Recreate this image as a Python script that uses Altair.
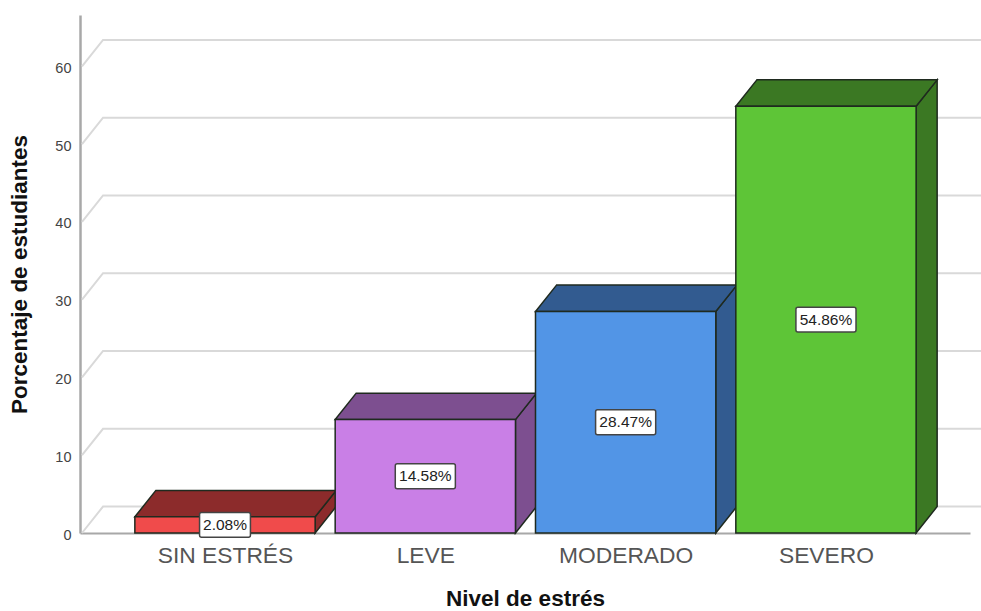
import altair as alt
import pandas as pd

# Survey results: share of students per stress level
categories = ["SIN ESTRÉS", "LEVE", "MODERADO", "SEVERO"]
percentages = [2.08, 14.58, 28.47, 54.86]
front_colors = ["#f04b4b", "#c97fe6", "#5295e6", "#5ec537"]
shade_colors = ["#8c2b2b", "#7d4f90", "#325b90", "#3b7823"]
grid_levels = [0, 10, 20, 30, 40, 50, 60]

# Category slots are one unit wide; the extrusion is expressed in axis units
HALF_BAR = 0.45
DEPTH_X = 0.105
DEPTH_Y = 3.4
X_MIN, X_MAX, X_EDGE = -0.7238, 3.719, 3.774
Y_MAX = 66.6
LABEL_HALF_W = {4: 0.127, 5: 0.15}
LABEL_HALF_H = 1.6
OUTLINE = "#1f2a1f"

x_scale = alt.Scale(domain=[X_MIN, X_MAX], nice=False, zero=False)
y_scale = alt.Scale(domain=[0, Y_MAX], nice=False)

label_expr = "{0: '%s', 1: '%s', 2: '%s', 3: '%s'}[datum.value]" % tuple(categories)

x_axis = alt.Axis(
    values=[0, 1, 2, 3], labelExpr=label_expr, title="Nivel de estrés", grid=False, ticks=False,
    domainColor="#a8a8a8", domainWidth=2, labelFont="Liberation Sans", labelFontSize=22.8,
    labelColor="#555555", labelPadding=11, labelFlush=False, labelOverlap=False,
    titleFont="Liberation Sans", titleFontSize=22.5, titleFontWeight="bold", titleColor="#111111",
    titlePadding=21,
)
y_axis = alt.Axis(
    values=grid_levels, title="Porcentaje de estudiantes", grid=False, ticks=False,
    domainColor="#a8a8a8", domainWidth=2.5, labelFont="Liberation Sans", labelFontSize=14.5,
    labelColor="#444444", labelPadding=9, labelOffset=2, titleFont="Liberation Sans", titleFontSize=22.5,
    titleFontWeight="bold", titleColor="#111111", titlePadding=23,
)

# Back-wall gridlines with their short diagonal run from the axis
wall_rows = []
for level in grid_levels:
    wall_rows += [
        {"level": level, "step": 0, "x": X_MIN + 0.01, "y": level},
        {"level": level, "step": 1, "x": X_MIN + 0.01 + DEPTH_X, "y": level + DEPTH_Y},
        {"level": level, "step": 2, "x": X_EDGE, "y": level + DEPTH_Y},
    ]
walls = alt.Chart(pd.DataFrame(wall_rows)).mark_line(color="#d9d9d9", strokeWidth=2, clip=False).encode(
    x=alt.X("x:Q", scale=x_scale, axis=x_axis),
    y=alt.Y("y:Q", scale=y_scale, axis=y_axis),
    detail="level:N",
    order="step:Q",
)

layers = [walls]
pos_x = alt.X("x:Q", scale=x_scale)
pos_y = alt.Y("y:Q", scale=y_scale)

# Each bar is an extruded box: right side, top, then the front face
for i, value in enumerate(percentages):
    left, right = i - HALF_BAR, i + HALF_BAR
    side = pd.DataFrame({
        "x": [right, right + DEPTH_X],
        "y": [0, DEPTH_Y],
        "y2": [value, value + DEPTH_Y],
    })
    top = pd.DataFrame({
        "y": [value, value + DEPTH_Y],
        "x": [left, left + DEPTH_X],
        "x2": [right, right + DEPTH_X],
    })
    front = pd.DataFrame({"x": [left], "x2": [right], "y": [0], "y2": [value]})

    layers.append(
        alt.Chart(side).mark_area(
            color=shade_colors[i], stroke=OUTLINE, strokeWidth=1.5, orient="vertical"
        ).encode(x=pos_x, y=pos_y, y2="y2:Q")
    )
    layers.append(
        alt.Chart(top).mark_area(
            color=shade_colors[i], stroke=OUTLINE, strokeWidth=1.5, orient="horizontal"
        ).encode(y=pos_y, x=pos_x, x2="x2:Q")
    )
    layers.append(
        alt.Chart(front).mark_rect(
            color=front_colors[i], stroke=OUTLINE, strokeWidth=1.5
        ).encode(x=pos_x, x2="x2:Q", y=pos_y, y2="y2:Q")
    )

# Boxed value labels at mid-height of each bar
label_rows = []
for i, value in enumerate(percentages):
    text = f"{value:.2f}%"
    half_w = LABEL_HALF_W[len(text) - 1]
    label_rows.append({
        "x": i, "x0": i - half_w, "x1": i + half_w,
        "y": value / 2, "y0": value / 2 - LABEL_HALF_H, "y1": value / 2 + LABEL_HALF_H,
        "text": text,
    })
labels = pd.DataFrame(label_rows)

layers.append(
    alt.Chart(labels).mark_rect(
        fill="white", stroke="#444444", strokeWidth=1.5, cornerRadius=2
    ).encode(
        x=alt.X("x0:Q", scale=x_scale), x2="x1:Q",
        y=alt.Y("y0:Q", scale=y_scale), y2="y1:Q",
    )
)
layers.append(
    alt.Chart(labels).mark_text(
        font="Liberation Sans", fontSize=15.5, color="#222222", align="center", baseline="middle"
    ).encode(x=pos_x, y=pos_y, text="text:N")
)

chart = alt.layer(*layers).properties(
    width=890,
    height=518,
    background="white",
    padding={"left": 80, "top": 15, "right": 11, "bottom": 78},
    autosize=alt.AutoSizeParams(type="none"),
).configure_view(strokeWidth=0)

chart.save("out.html", embed_options={"renderer": "svg", "actions": False})
